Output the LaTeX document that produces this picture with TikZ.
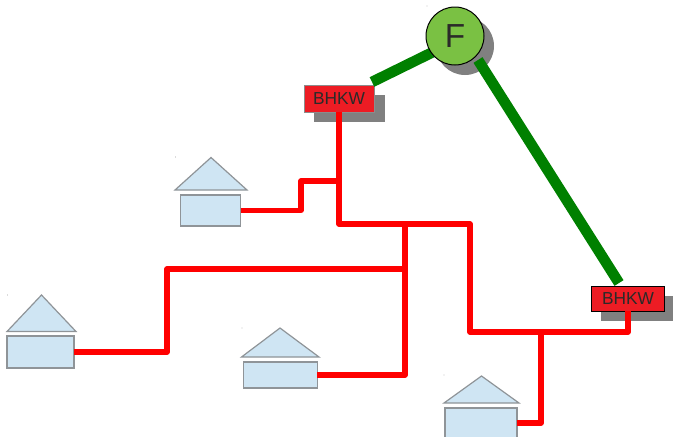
\documentclass[tikz,border=0pt]{standalone}
\usepackage{fontspec}
\setmainfont{Liberation Sans}
\definecolor{boxred}{HTML}{ED1C24}
\definecolor{leaf}{HTML}{7AC143}
\definecolor{housefill}{HTML}{CFE5F3}
\definecolor{houseedge}{HTML}{8F9498}
\definecolor{shadowgray}{HTML}{808080}
\definecolor{txt}{HTML}{2B2A29}
\definecolor{pipegreen}{HTML}{008000}
\tikzset{
  houseroof/.style={draw=houseedge,fill=housefill,line width=0.9pt,line join=miter},
  housebody/.style={draw=houseedge,fill=housefill,line width=0.9pt,inner sep=0pt,outer sep=0pt},
  unitbox/.style={fill=boxred,inner sep=0pt,outer sep=0pt,text=txt,font=\fontsize{13pt}{15pt}\selectfont},
  unitshadow/.style={fill=shadowgray,inner sep=0pt,outer sep=0pt},
  redpipe/.style={draw=red,line width=4.1pt,line join=round},
  greenpipe/.style={draw=pipegreen,line width=8pt},
  speck/.style={fill=black!60,circle,inner sep=0pt,minimum size=0.6pt}
}
\begin{document}
\begin{tikzpicture}[x=0.75pt,y=-0.75pt]
\useasboundingbox (0,0) rectangle (673,436);
% shadows
\node[unitshadow,minimum width=53.25pt,minimum height=20.25pt] (s1) at (349.5,108.5) {};
\node[unitshadow,minimum width=54pt,minimum height=18.75pt] (s2) at (637,308.5) {};
\node[unitshadow,circle,minimum size=43.5pt] (sf) at (465,46) {};
% coordinates
\coordinate (g1) at (372,82);
\coordinate (g2) at (433,52);
\coordinate (g3) at (478,60);
\coordinate (g4) at (619,283);
% houses
\draw[houseroof] (211,157.5) -- (247,190) -- (175,190) -- cycle;
\draw[houseroof] (41.5,295) -- (76,331.5) -- (7,331.5) -- cycle;
\draw[houseroof] (280,328) -- (319,357) -- (241.5,357) -- cycle;
\draw[houseroof] (481.5,376) -- (519,403) -- (444,403) -- cycle;
\node[housebody,minimum width=45pt,minimum height=23.25pt] (h1) at (210.5,210.5) {};
\node[housebody,minimum width=50.25pt,minimum height=24pt] (h2) at (40.5,352) {};
\node[housebody,minimum width=55.5pt,minimum height=19.5pt] (h3) at (280.25,375) {};
\node[housebody,minimum width=54pt,minimum height=22.5pt] (h4) at (481,423) {};
% specks
\node[speck] (d1) at (175.5,157) {};
\node[speck] (d2) at (7.5,295) {};
\node[speck] (d3) at (242,328) {};
\node[speck] (d4) at (444,375) {};
\node[speck] (d5) at (427,6) {};
% BHKW boxes
\node[unitbox,draw=black!45,line width=0.6pt,minimum width=52.5pt,minimum height=20.25pt] (b1) at (339,98.5) {BHKW};
\node[unitbox,draw=black,line width=0.75pt,minimum width=54.75pt,minimum height=18.75pt] (b2) at (628,298.5) {BHKW};
% red network
\coordinate (j1) at (b1.south |- 0,224);
\coordinate (j2) at (470,224);
\coordinate (j3) at (470,332);
\coordinate (j4) at (b2.south |- 0,332);
\draw[redpipe] (b1.south) -- (j1) -- (j2) -- (j3) -- (j4) -- (b2.south);
\coordinate (k2) at (301,181);
\coordinate (k1) at (k2 |- h1.east);
\coordinate (k3) at (b1.south |- k2);
\draw[redpipe] (h1.east) -- (k1) -- (k2) -- (k3);
\coordinate (m1) at (405,224);
\coordinate (m2) at (m1 |- h3.east);
\draw[redpipe] (m1) -- (m2) -- (h3.east);
\coordinate (n1) at (405,269);
\coordinate (n2) at (167,269);
\coordinate (n3) at (n2 |- h2.east);
\draw[redpipe] (n1) -- (n2) -- (n3) -- (h2.east);
\coordinate (p1) at (541,332);
\coordinate (p2) at (p1 |- h4.east);
\draw[redpipe] (p1) -- (p2) -- (h4.east);
% green pipes
\draw[greenpipe] (g1) -- (g2);
\draw[greenpipe] (g3) -- (g4);
% F circle
\node[circle,draw=black,line width=0.75pt,fill=leaf,inner sep=0pt,minimum size=43.5pt,text=txt,font=\fontsize{25pt}{28pt}\selectfont] (f) at (455,36) {F};
\end{tikzpicture}
\end{document}
